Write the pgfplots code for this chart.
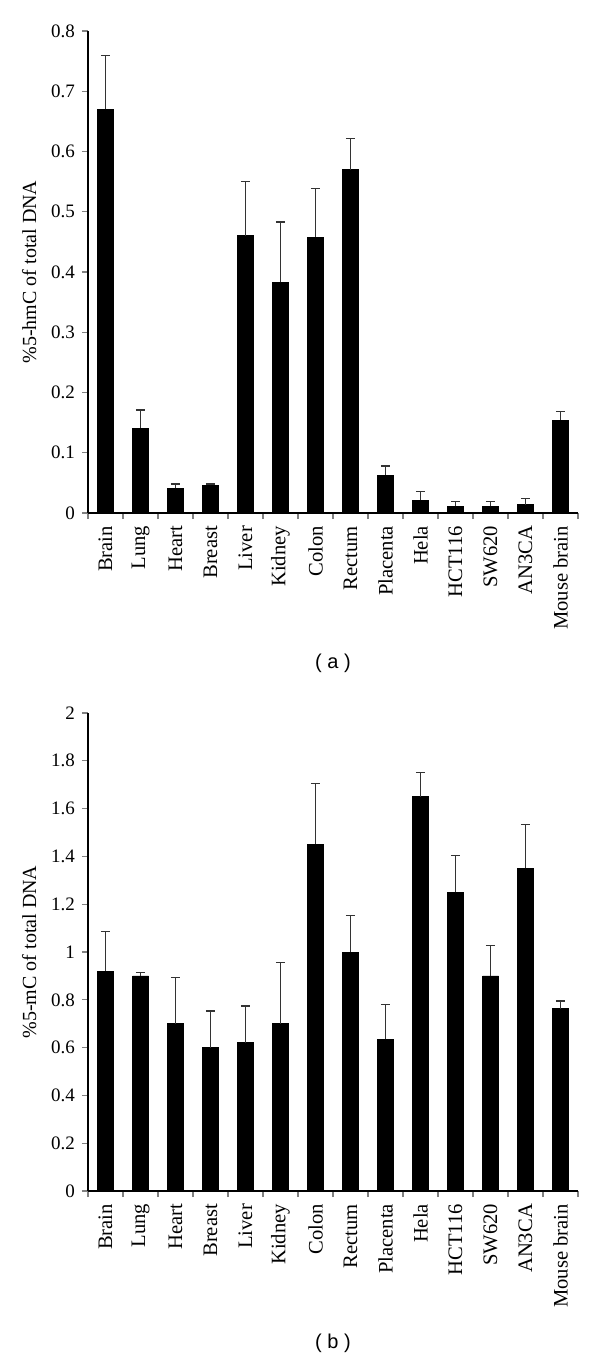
\documentclass[border=0pt]{standalone}
\usepackage{fontspec}
\setmainfont{Liberation Serif}
\newfontfamily\capsans{Liberation Sans}
\usepackage{pgfplots}
\pgfplotsset{compat=1.18}
\usepackage{pgfplotstable}

\pgfplotstableread{
x y e
0 0.670 0.090
1 0.141 0.030
2 0.041 0.007
3 0.046 0.002
4 0.460 0.090
5 0.383 0.100
6 0.458 0.080
7 0.570 0.051
8 0.063 0.015
9 0.021 0.015
10 0.011 0.008
11 0.011 0.008
12 0.014 0.010
13 0.154 0.015
}\hmcdata

\pgfplotstableread{
x y e
0 0.92 0.165
1 0.90 0.013
2 0.70 0.193
3 0.60 0.153
4 0.62 0.154
5 0.70 0.255
6 1.45 0.255
7 1.00 0.152
8 0.635 0.146
9 1.65 0.10
10 1.25 0.155
11 0.90 0.127
12 1.35 0.183
13 0.763 0.032
}\mcdata

\pgfplotsset{
  panel/.style={
    scale only axis,
    width=245pt,
    axis x line*=bottom,
    axis y line*=left,
    axis line style={-, line width=0.6pt},
    xmin=-0.5, xmax=13.5,
    ymin=0,
    xtick={0,...,13},
    xticklabels={Brain,Lung,Heart,Breast,Liver,Kidney,Colon,Rectum,Placenta,Hela,HCT116,SW620,AN3CA,Mouse brain},
    x tick label style={rotate=90, anchor=east, font=\fontsize{10.3}{12}\selectfont},
    major x tick style={draw=none},
    minor xtick={-0.5,0.5,...,13.5},
    minor x tick style={line width=0.6pt},
    tick align=outside,
    major tick length=3pt,
    minor tick length=3pt,
    y tick style={line width=0.6pt},
    y tick label style={font=\fontsize{9.5}{11}\selectfont},
    /pgf/number format/assume math mode=true,
    ylabel style={at={(axis description cs:-0.12,0.5)}, anchor=center, font=\fontsize{10}{12}\selectfont},
    ybar, bar width=8pt,
    clip=false,
  },
  mybars/.style={
    fill=black, draw=black,
    error bars/.cd,
      y dir=plus, y explicit,
      error bar style={line width=0.5pt, color=black!80},
      error mark options={rotate=90, line width=0.6pt, color=black!80, mark size=2.3pt},
  },
}

\begin{document}
\begin{tikzpicture}
\path[use as bounding box] (0,0) rectangle (300pt,-679.5pt);

\begin{axis}[panel,
  at={(44pt,-256.5pt)}, anchor=south west,
  height=241pt,
  ymax=0.8,
  ytick={0,0.1,0.2,0.3,0.4,0.5,0.6,0.7,0.8},
  yticklabels={0,0.1,0.2,0.3,0.4,0.5,0.6,0.7,0.8},
  ylabel={\%5-hmC of total DNA},
]
\addplot[mybars] table[x=x, y=y, y error=e] {\hmcdata};
\end{axis}
\node[font=\capsans\fontsize{10}{12}\selectfont] at (166.5pt,-331.5pt) {( a )};

\begin{axis}[panel,
  at={(44pt,-595.5pt)}, anchor=south west,
  height=239pt,
  ymax=2,
  ytick={0,0.2,0.4,0.6,0.8,1,1.2,1.4,1.6,1.8,2},
  yticklabels={0,0.2,0.4,0.6,0.8,1,1.2,1.4,1.6,1.8,2},
  ylabel={\%5-mC of total DNA},
]
\addplot[mybars] table[x=x, y=y, y error=e] {\mcdata};
\end{axis}
\node[font=\capsans\fontsize{10}{12}\selectfont] at (166.5pt,-671.5pt) {( b )};
\end{tikzpicture}
\end{document}
